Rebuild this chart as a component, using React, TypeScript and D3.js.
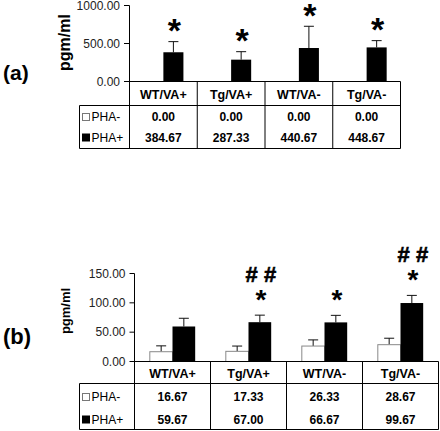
import React from "react";
import * as d3 from "d3";

const categories = ["WT/VA+", "Tg/VA+", "WT/VA-", "Tg/VA-"];
const seriesNames = ["PHA-", "PHA+"];

// Panel (a)
const aPhaMinus = [0, 0, 0, 0];
const aPhaMinusErr = [0, 0, 0, 0];
const aPhaPlus = [384.67, 287.33, 440.67, 448.67];
const aPhaPlusErr = [140, 105, 286, 89];
const aTicks = [0, 500, 1000];
const aStars = [true, true, true, true];
const aHashes = [false, false, false, false];

// Panel (b)
const bPhaMinus = [16.67, 17.33, 26.33, 28.67];
const bPhaMinusErr = [10, 9, 10.5, 11];
const bPhaPlus = [59.67, 67.0, 66.67, 99.67];
const bPhaPlusErr = [14, 12, 12, 13];
const bTicks = [0, 50, 100, 150];
const bStars = [false, true, true, true];
const bHashes = [false, true, false, true];

const FONT = "Arial, 'Liberation Sans', sans-serif";
const fmt = d3.format(".2f");

type PanelProps = {
  label: string;
  minus: number[];
  minusErr: number[];
  plus: number[];
  plusErr: number[];
  ticks: number[];
  stars: boolean[];
  hashes: boolean[];
  yMax: number;
  axisX: number;
  right: number;
  yTop: number;
  yBase: number;
  headerBottom: number;
  tableBottom: number;
  row1: number;
  row2: number;
  legendLeft: number;
  labelY: number;
  labelX: number;
  labelFont: number;
  yLabelY: number;
  yLabelFont: number;
  tickLen: number;
  starFont: number;
  starGap: number;
  hashFont: number;
  barPad: number;
};

function Panel(p: PanelProps) {
  const x0 = d3.scaleBand<string>().domain(categories).range([p.axisX, p.right]).padding(0);
  const x1 = d3
    .scaleBand<string>()
    .domain(seriesNames)
    .range([0, x0.bandwidth()])
    .paddingInner(0)
    .paddingOuter(p.barPad);
  const y = d3.scaleLinear().domain([0, p.yMax]).range([p.yBase, p.yTop]);
  const capW = 10;

  const series = [
    { name: "PHA-", vals: p.minus, errs: p.minusErr, fill: "#fff", stroke: "#888" },
    { name: "PHA+", vals: p.plus, errs: p.plusErr, fill: "#000", stroke: "none" },
  ];

  const colEdges = categories.map((c) => x0(c) as number).concat([p.right]);

  return (
    <g>
      <text
        x={3}
        y={p.labelY}
        fontFamily={FONT}
        fontWeight="bold"
        fontSize={p.labelFont}
        dominantBaseline="central"
      >
        {p.label}
      </text>
      <text
        transform={`translate(${p.labelX},${p.yLabelY}) rotate(-90)`}
        fontFamily={FONT}
        fontWeight="bold"
        fontSize={p.yLabelFont}
        textAnchor="middle"
        dominantBaseline="central"
      >
        pgm/ml
      </text>
      {p.ticks.map((t) => (
        <g key={t}>
          <line x1={p.axisX - p.tickLen} x2={p.axisX} y1={y(t)} y2={y(t)} stroke="#000" />
          <text
            x={p.axisX - p.tickLen - 4}
            y={y(t)}
            textAnchor="end"
            dominantBaseline="central"
            fontFamily={FONT}
            fontSize={12}
            fill="#222"
          >
            {fmt(t)}
          </text>
        </g>
      ))}
      {series.map((s) =>
        categories.map((c, i) => {
          const bx = (x0(c) as number) + (x1(s.name) as number);
          const bw = x1.bandwidth();
          const v = s.vals[i];
          if (v <= 0) return null;
          const cx = bx + bw / 2;
          const et = y(v + s.errs[i]);
          return (
            <g key={s.name + c}>
              <line x1={cx} x2={cx} y1={y(v)} y2={et} stroke="#111" />
              <line x1={cx - capW / 2} x2={cx + capW / 2} y1={et} y2={et} stroke="#111" />
              <rect
                x={bx}
                y={y(v)}
                width={bw}
                height={p.yBase - y(v)}
                fill={s.fill}
                stroke={s.stroke}
                strokeWidth={1}
              />
            </g>
          );
        })
      )}
      {categories.map((c, i) => {
        const cx = (x0(c) as number) + (x1("PHA+") as number) + x1.bandwidth() / 2;
        const et = y(p.plus[i] + p.plusErr[i]);
        const starBaseline = et - p.starGap + 0.25 * p.starFont;
        return (
          <g key={"sig" + c}>
            {p.stars[i] && (
              <text
                x={cx + 1}
                y={starBaseline}
                textAnchor="middle"
                fontFamily={FONT}
                fontWeight="bold"
                fontSize={p.starFont}
              >
                *
              </text>
            )}
            {p.hashes[i] && (
              <text
                x={cx + 1}
                y={starBaseline - 27}
                textAnchor="middle"
                fontFamily={FONT}
                fontWeight="bold"
                fontSize={p.hashFont}
                stroke="#000"
                strokeWidth={0.6}
              >
                # #
              </text>
            )}
          </g>
        );
      })}
      <line x1={p.axisX} x2={p.axisX} y1={y(p.yMax)} y2={p.tableBottom} stroke="#000" />
      <line x1={p.axisX} x2={p.right} y1={p.yBase} y2={p.yBase} stroke="#000" />
      <line x1={p.legendLeft} x2={p.right} y1={p.headerBottom} y2={p.headerBottom} stroke="#000" />
      <line x1={p.legendLeft} x2={p.right} y1={p.tableBottom} y2={p.tableBottom} stroke="#000" />
      <line x1={p.legendLeft} x2={p.legendLeft} y1={p.headerBottom} y2={p.tableBottom} stroke="#000" />
      {colEdges.slice(1).map((ex, k) => (
        <line key={k} x1={ex} x2={ex} y1={p.yBase} y2={p.tableBottom} stroke="#000" />
      ))}
      {categories.map((c) => (
        <text
          key={"h" + c}
          x={(x0(c) as number) + x0.bandwidth() / 2}
          y={(p.yBase + p.headerBottom) / 2 + 1}
          textAnchor="middle"
          dominantBaseline="central"
          fontFamily={FONT}
          fontWeight="bold"
          fontSize={12.5}
        >
          {c}
        </text>
      ))}
      {series.map((s, r) => {
        const ry = r === 0 ? p.row1 : p.row2;
        return (
          <g key={"row" + s.name}>
            <rect
              x={p.legendLeft + 3}
              y={ry - 3.5}
              width={7}
              height={7}
              fill={s.name === "PHA+" ? "#000" : "#fff"}
              stroke={s.name === "PHA+" ? "#000" : "#777"}
            />
            <text
              x={p.legendLeft + 12}
              y={ry}
              dominantBaseline="central"
              fontFamily={FONT}
              fontSize={12}
            >
              {s.name}
            </text>
            {categories.map((c, i) => (
              <text
                key={c}
                x={(x0(c) as number) + x0.bandwidth() / 2}
                y={ry}
                textAnchor="middle"
                dominantBaseline="central"
                fontFamily={FONT}
                fontWeight="bold"
                fontSize={12}
              >
                {fmt(s.vals[i])}
              </text>
            ))}
          </g>
        );
      })}
    </g>
  );
}

export default function App() {
  return (
    <svg
      width={440}
      height={431}
      style={{ position: "absolute", left: 0, top: 0, background: "#fff" }}
    >
      <rect width={440} height={431} fill="#fff" />
      <Panel
        label="(a)"
        minus={aPhaMinus}
        minusErr={aPhaMinusErr}
        plus={aPhaPlus}
        plusErr={aPhaPlusErr}
        ticks={aTicks}
        stars={aStars}
        hashes={aHashes}
        yMax={1000}
        axisX={129.5}
        right={400.5}
        yTop={5.5}
        yBase={81.5}
        headerBottom={105.5}
        tableBottom={148.5}
        row1={117}
        row2={137.5}
        legendLeft={79.5}
        labelY={72.5}
        labelX={64}
        labelFont={21}
        yLabelY={42.5}
        yLabelFont={16}
        tickLen={5.5}
        starFont={34}
        starGap={8}
        hashFont={22}
        barPad={0.69}
      />
      <Panel
        label="(b)"
        minus={bPhaMinus}
        minusErr={bPhaMinusErr}
        plus={bPhaPlus}
        plusErr={bPhaPlusErr}
        ticks={bTicks}
        stars={bStars}
        hashes={bHashes}
        yMax={150}
        axisX={134.5}
        right={438.5}
        yTop={273.5}
        yBase={361.5}
        headerBottom={383.5}
        tableBottom={429.5}
        row1={397}
        row2={419.5}
        legendLeft={79.5}
        labelY={336.5}
        labelX={65}
        labelFont={22}
        yLabelY={311}
        yLabelFont={13}
        tickLen={5}
        starFont={28}
        starGap={13}
        hashFont={22}
        barPad={0.675}
      />
    </svg>
  );
}
